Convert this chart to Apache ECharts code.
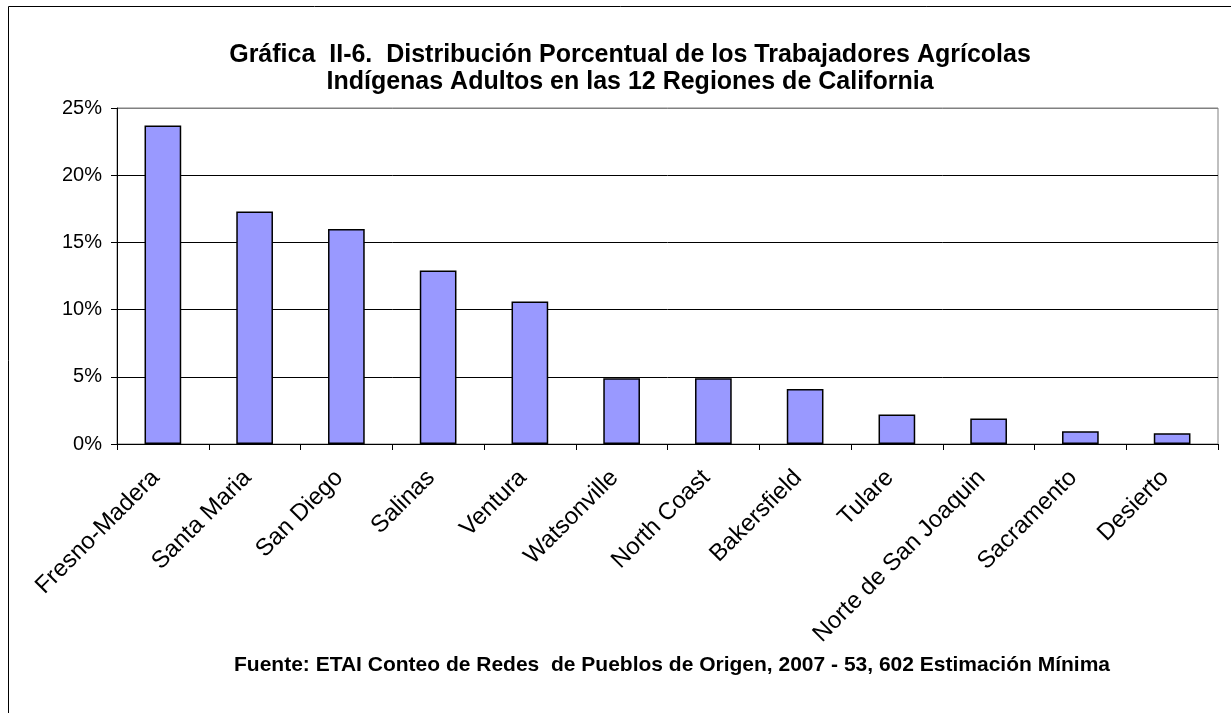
<!DOCTYPE html>
<html>
<head>
<meta charset="utf-8">
<script src="https://cdn.jsdelivr.net/npm/echarts@6/dist/echarts.min.js"></script>
<style>
  html, body { margin: 0; padding: 0; background: #fff; }
  #chart { width: 1231px; height: 713px; }
</style>
</head>
<body>
<div id="chart"></div>
<script>
// regiones y porcentajes
const regiones = ['Fresno-Madera', 'Santa Maria', 'San Diego', 'Salinas', 'Ventura', 'Watsonville',
  'North Coast', 'Bakersfield', 'Tulare', 'Norte de San Joaquin', 'Sacramento', 'Desierto'];
const porcentajes = [23.7, 17.3, 16.0, 12.9, 10.6, 4.9, 4.9, 4.1, 2.2, 1.9, 0.95, 0.8];

const titulo = 'Gráfica  II-6.  Distribución Porcentual de los Trabajadores Agrícolas\nIndígenas Adultos en las 12 Regiones de California';
const fuente = 'Fuente: ETAI Conteo de Redes  de Pueblos de Origen, 2007 - 53, 602 Estimación Mínima';

const chart = echarts.init(document.getElementById('chart'));

const option = {
  animation: false,
  textStyle: { fontFamily: 'Liberation Sans, Arial, sans-serif' },
  title: [
    {
      text: titulo,
      left: 625,
      top: 37,
      textAlign: 'center',
      textStyle: { fontSize: 25, fontWeight: 'bold', color: '#000', lineHeight: 27 }
    },
    {
      text: fuente,
      left: 667,
      top: 650,
      textAlign: 'center',
      textStyle: { fontSize: 21, fontWeight: 'bold', color: '#000' }
    }
  ],
  graphic: [
    {
      type: 'rect',
      shape: { x: 8.5, y: 6.5, width: 1226, height: 720 },
      style: { fill: 'none', stroke: '#000', lineWidth: 1 },
      silent: true
    }
  ],
  grid: {
    left: 117,
    right: 13,
    top: 108,
    bottom: 269,
    show: true,
    borderColor: '#808080',
    borderWidth: 1
  },
  xAxis: {
    type: 'category',
    data: regiones,
    axisLine: { lineStyle: { color: '#000', width: 1 } },
    axisTick: { show: true, length: 6, lineStyle: { color: '#000' } },
    axisLabel: {
      rotate: 45,
      fontSize: 24,
      color: '#000',
      margin: 23,
      padding: [0, 10, 0, 0],
      interval: 0
    }
  },
  yAxis: {
    type: 'value',
    min: 0,
    max: 25,
    interval: 5,
    axisLine: { show: true, lineStyle: { color: '#000', width: 1 } },
    axisTick: { show: true, length: 6, lineStyle: { color: '#000' } },
    axisLabel: {
      fontSize: 20,
      color: '#000',
      margin: 15,
      formatter: '{value}%'
    },
    splitLine: {
      show: true,
      lineStyle: { color: ['#000', '#000', '#000', '#000', '#000', '#808080'], width: 1 }
    }
  },
  series: [
    {
      type: 'bar',
      data: porcentajes,
      barWidth: '40%',
      itemStyle: { color: '#9999FF', borderColor: '#000', borderWidth: 1.5 }
    }
  ]
};

chart.setOption(option);
</script>
</body>
</html>
